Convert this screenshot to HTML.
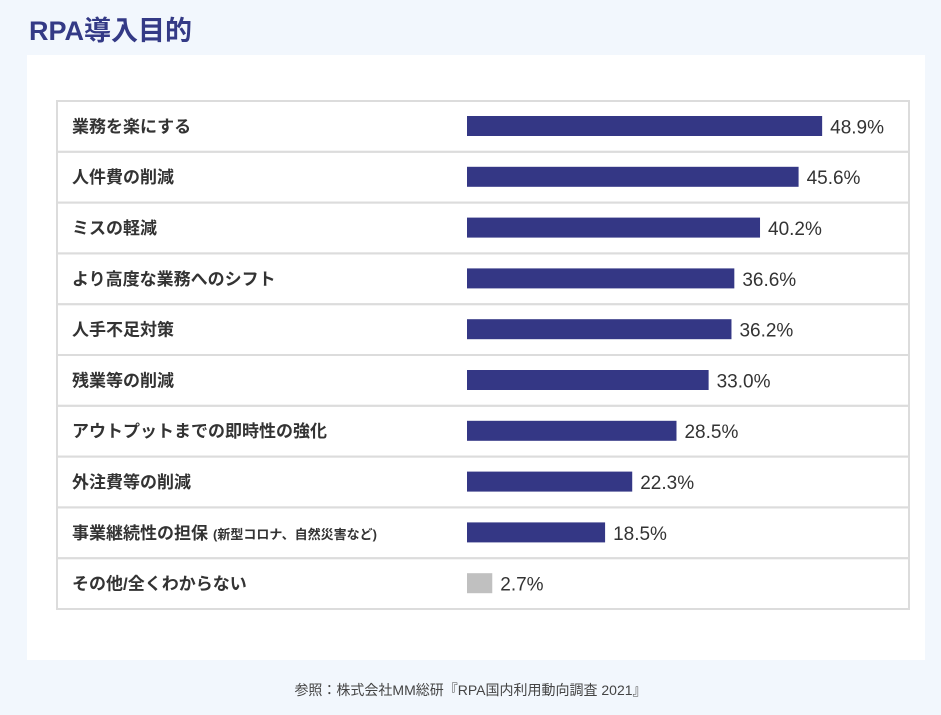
<!DOCTYPE html>
<html><head><meta charset="utf-8"><style>
body{margin:0;width:941px;height:715px;background:#f2f7fd;font-family:"Liberation Sans","Noto Sans CJK JP",sans-serif;position:relative;overflow:hidden}
#title{position:absolute;left:29px;top:9px;font-size:27px;font-weight:bold;color:#343a86;margin:0}
#panel{position:absolute;left:27px;top:55px;width:898px;height:605px;background:#fff}
#src{position:absolute;left:0;width:941px;top:680px;text-align:center;font-size:14px;color:#444}
</style></head><body>
<h1 id="title">RPA導入目的</h1>
<div id="panel">
<svg id="chart" width="898" height="605"></svg>
</div>
<div id="src">参照：株式会社MM総研『RPA国内利用動向調査 2021』</div>
<script>
const categories=["業務を楽にする","人件費の削減","ミスの軽減","より高度な業務へのシフト","人手不足対策","残業等の削減","アウトプットまでの即時性の強化","外注費等の削減","事業継続性の担保","その他/全くわからない"];
const notes=["","","","","","","","","(新型コロナ、自然災害など)",""];
const values=[48.9,45.6,40.2,36.6,36.2,33.0,28.5,22.3,18.5,2.7];
const valueLabels=["48.9%","45.6%","40.2%","36.6%","36.2%","33.0%","28.5%","22.3%","18.5%","2.7%"];
const NS="http://www.w3.org/2000/svg";
const svg=document.getElementById('chart');
const ox=-27,oy=-55;
const tableX=57+ox,tableY=101+oy,tableW=852,rowH=50.8;
const barX=467+ox;
function xw(v){return 7.14*v+6;}
function rowY(i){return tableY+i*rowH;}
function mk(tag,attrs){const e=document.createElementNS(NS,tag);for(const k in attrs)e.setAttribute(k,attrs[k]);svg.appendChild(e);return e;}
categories.forEach((c,i)=>{
  const y=rowY(i);
  const r=mk('rect',{x:tableX,y:y,width:tableW,height:rowH,fill:'none',stroke:'#dcdcdc','stroke-width':2});
  
  
  const t=mk('text',{x:tableX+15,y:y+rowH/2+6,'font-size':17,'font-weight':'bold',fill:'#333'});
  t.textContent=c;
  
  
  if(notes[i]){const ts=document.createElementNS(NS,'tspan');ts.setAttribute('font-size','13');ts.setAttribute('dx','5');ts.textContent=notes[i];t.appendChild(ts);}
  const w=xw(values[i]);
  const b=mk('rect',{x:barX,y:y+15,width:w,height:20,fill:i===categories.length-1?'#c0c0c0':'#343785'});
  
  
  const v=mk('text',{x:barX+w+8,y:y+rowH/2+7,'font-size':19,fill:'#333'});
  v.textContent=valueLabels[i];
  
  
});
</script>
</body></html>
